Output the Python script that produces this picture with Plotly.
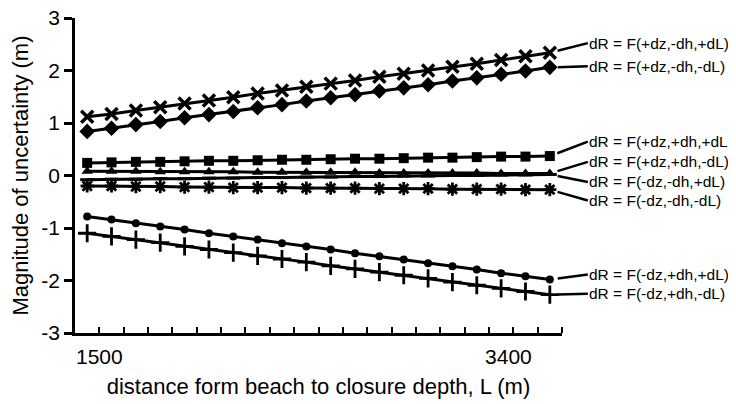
import plotly.graph_objects as go

# ---------------- data ----------------
distance_L = [1500, 1600, 1700, 1800, 1900, 2000, 2100, 2200, 2300, 2400,
              2500, 2600, 2700, 2800, 2900, 3000, 3100, 3200, 3300, 3400]

pz_mh_pL = [1.12, 1.17, 1.24, 1.30, 1.37, 1.43, 1.49, 1.56, 1.62, 1.69,
            1.75, 1.81, 1.88, 1.94, 2.00, 2.07, 2.13, 2.20, 2.27, 2.34]
pz_mh_mL = [0.84, 0.90, 0.97, 1.03, 1.10, 1.16, 1.22, 1.29, 1.35, 1.42,
            1.48, 1.54, 1.61, 1.67, 1.73, 1.80, 1.86, 1.93, 1.99, 2.06]
pz_ph_pL = [0.24, 0.25, 0.26, 0.26, 0.27, 0.28, 0.28, 0.29, 0.30, 0.30,
            0.31, 0.32, 0.32, 0.33, 0.34, 0.34, 0.35, 0.36, 0.36, 0.37]
pz_ph_mL = [0.08, 0.08, 0.08, 0.07, 0.07, 0.07, 0.07, 0.06, 0.06, 0.06,
            0.06, 0.06, 0.05, 0.05, 0.05, 0.05, 0.05, 0.04, 0.04, 0.04]
mz_mh_pL = [-0.08, -0.07, -0.07, -0.06, -0.06, -0.05, -0.05, -0.04, -0.04, -0.03,
            -0.03, -0.02, -0.02, -0.01, -0.01, 0.00, 0.00, 0.01, 0.01, 0.02]
mz_mh_mL = [-0.20, -0.20, -0.21, -0.21, -0.22, -0.22, -0.23, -0.23, -0.23, -0.24,
            -0.24, -0.24, -0.25, -0.25, -0.25, -0.26, -0.26, -0.26, -0.27, -0.27]
mz_ph_pL = [-0.78, -0.84, -0.91, -0.97, -1.03, -1.10, -1.16, -1.22, -1.29, -1.35,
            -1.41, -1.48, -1.54, -1.60, -1.67, -1.73, -1.79, -1.86, -1.92, -1.98]
mz_ph_mL = [-1.10, -1.16, -1.22, -1.28, -1.35, -1.41, -1.47, -1.53, -1.59, -1.65,
            -1.72, -1.78, -1.84, -1.90, -1.96, -2.03, -2.09, -2.15, -2.21, -2.27]

series_labels = ["dR = F(+dz,-dh,+dL)", "dR = F(+dz,-dh,-dL)",
                 "dR = F(+dz,+dh,+dL)", "dR = F(+dz,+dh,-dL)",
                 "dR = F(-dz,-dh,+dL)", "dR = F(-dz,-dh,-dL)",
                 "dR = F(-dz,+dh,+dL)", "dR = F(-dz,+dh,-dL)"]

x_tick_vals = [1550, 3230]
x_tick_text = ["1500", "3400"]
x_minor_ticks = [1550, 1650, 1750, 1850, 1950, 2050, 2150, 2250, 2350, 2450,
                 2550, 2650, 2750, 2850, 2950, 3050, 3150, 3250, 3350, 3450]
y_ticks = [-3, -2, -1, 0, 1, 2, 3]
y_tick_text = ["-3", "-2", "-1", "0", "1", "2", "3"]

# ---------------- styles ----------------
series_values = [pz_mh_pL, pz_mh_mL, pz_ph_pL, pz_ph_mL,
                 mz_mh_pL, mz_mh_mL, mz_ph_pL, mz_ph_mL]
markers = [
    dict(symbol="x-thin", size=12, line=dict(color="black", width=3.5)),
    dict(symbol="diamond", size=12, color="black"),
    dict(symbol="square", size=10, color="black"),
    dict(symbol="triangle-up", size=10, color="black"),
    dict(symbol="line-ew", size=10, line=dict(color="black", width=3)),
    dict(symbol="asterisk", size=11, line=dict(color="black", width=2.8)),
    dict(symbol="circle", size=8, color="black"),
    dict(symbol="cross-thin", size=13, line=dict(color="black", width=2.8)),
]
# label offsets (pixels) from the last point to the label's left edge
label_dx = [38, 38, 38, 38, 38, 38, 38, 38]
label_dy = [-9.5, -1, -14.5, -11.5, 7.5, 10.8, -5, -1]

FONT = "Arial, Liberation Sans, sans-serif"

fig = go.Figure()
for vals, mk, name in zip(series_values, markers, series_labels):
    fig.add_trace(go.Scatter(
        x=distance_L, y=vals, mode="lines+markers", name=name,
        line=dict(color="black", width=3), marker=mk, showlegend=False,
    ))

for vals, name, dx, dy in zip(series_values, series_labels, label_dx, label_dy):
    fig.add_annotation(
        x=distance_L[-1], y=vals[-1], xref="x", yref="y",
        text=name, showarrow=True, arrowhead=0, arrowwidth=2.5,
        arrowcolor="black", ax=dx, ay=dy, axref="pixel", ayref="pixel",
        xanchor="left", yanchor="middle", standoff=8, borderpad=0,
        font=dict(family=FONT, size=15.5, color="black"),
    )

# page body adds an 8px offset, so the figure is 8px smaller than the window
fig.update_layout(
    width=728, height=396,
    margin=dict(l=67, r=174, t=10, b=71),
    paper_bgcolor="white", plot_bgcolor="white",
    font=dict(family=FONT, color="black"),
)
fig.update_xaxes(
    automargin=False, ticklabeloverflow="allow",
    range=[1450, 3450], showgrid=False, zeroline=False,
    showline=True, linecolor="black", linewidth=2.5,
    tickmode="array", tickvals=x_tick_vals, ticktext=x_tick_text,
    ticks="", ticklabelstandoff=3,
    tickfont=dict(family=FONT, size=21, color="black"),
    minor=dict(tickmode="array", tickvals=x_minor_ticks, ticks="inside",
               ticklen=6, tickwidth=2, tickcolor="black", showgrid=False),
    title=dict(text="distance form beach to closure depth, L (m)",
               font=dict(family=FONT, size=22, color="black"), standoff=12),
)
fig.update_yaxes(
    automargin=False, ticklabeloverflow="allow",
    range=[-3, 3], showgrid=False, zeroline=False,
    showline=True, linecolor="black", linewidth=2.5,
    tickmode="array", tickvals=y_ticks, ticktext=y_tick_text,
    ticks="outside", ticklen=8, tickwidth=2.5, tickcolor="black",
    tickfont=dict(family=FONT, size=21, color="black"),
    title=dict(text="Magnitude of uncertainty (m)",
               font=dict(family=FONT, size=22, color="black"), standoff=8),
)

fig.write_html("out.html")
